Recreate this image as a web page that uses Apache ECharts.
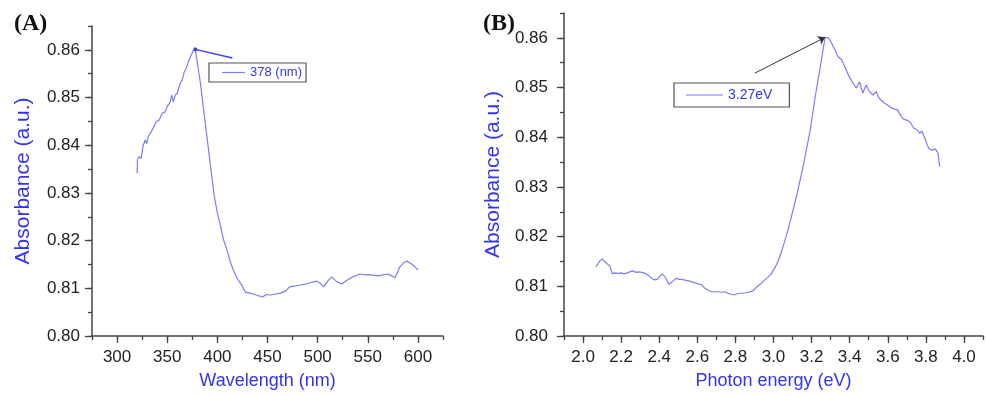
<!DOCTYPE html>
<html>
<head>
<meta charset="utf-8">
<script src="https://cdn.jsdelivr.net/npm/echarts@6.0.0/dist/echarts.min.js"></script>
<style>
  html, body { margin: 0; padding: 0; background: #fff; }
  #chart { width: 986px; height: 396px; }
</style>
</head>
<body>
<div id="chart"></div>
<script>
// (A) absorbance vs wavelength
const wavelength = [320, 320.3, 322, 324, 326, 328, 329.5, 331, 334, 337, 339, 342, 345, 348, 350, 353, 354.5, 356, 358, 360,
  363, 365, 367, 369, 371, 374, 376, 378, 379, 383, 386, 390, 394, 397, 400, 403, 406, 410, 413, 416, 420, 423, 428,
  432, 436, 440, 445, 449, 453, 458, 463, 468, 472, 478, 483, 490, 495, 499, 503, 506, 510, 514, 519, 524, 530, 535,
  542, 548, 552, 557, 562, 566, 570, 574, 577, 580, 582, 586, 589, 592, 595, 598, 600];
const absorbanceA = [0.8341, 0.8370, 0.8376, 0.8372, 0.8399, 0.8411, 0.8403, 0.8418, 0.8428, 0.8440, 0.8449, 0.8453,
  0.8467, 0.8470, 0.8481, 0.8491, 0.8505, 0.8491, 0.8505, 0.8509, 0.8530, 0.8537, 0.8554, 0.8561, 0.8575, 0.8589,
  0.8598, 0.8601, 0.8600, 0.8532, 0.8480, 0.8411, 0.8342, 0.8292, 0.8258, 0.8232, 0.8203, 0.8178, 0.8155, 0.8138,
  0.8120, 0.8111, 0.8092, 0.8090, 0.8088, 0.8085, 0.8082, 0.8087, 0.8086, 0.8088, 0.8090, 0.8094, 0.8103, 0.8105,
  0.8107, 0.8110, 0.8113, 0.8115, 0.8110, 0.8103, 0.8115, 0.8124, 0.8114, 0.8109, 0.8118, 0.8124, 0.8130, 0.8128,
  0.8128, 0.8127, 0.8126, 0.8129, 0.8130, 0.8126, 0.8122, 0.8135, 0.8145, 0.8154, 0.8157, 0.8153, 0.8149, 0.8143, 0.8138];

// (B) absorbance vs photon energy
const energy = [2.067, 2.075, 2.090, 2.102, 2.113, 2.123, 2.140, 2.154, 2.165, 2.175, 2.188, 2.200, 2.213, 2.226, 2.245,
  2.261, 2.278, 2.295, 2.321, 2.335, 2.347, 2.360, 2.373, 2.390, 2.405, 2.416, 2.425, 2.433, 2.442, 2.451, 2.468, 2.488,
  2.505, 2.520, 2.540, 2.554, 2.572, 2.589, 2.605, 2.623, 2.640, 2.658, 2.675, 2.692, 2.710, 2.727, 2.744, 2.760, 2.770,
  2.785, 2.796, 2.810, 2.822, 2.840, 2.856, 2.875, 2.890, 2.899, 2.910, 2.930, 2.951, 2.970, 2.986, 3.005, 3.021, 3.038,
  3.055, 3.072, 3.090, 3.107, 3.124, 3.142, 3.159, 3.176, 3.193, 3.206, 3.219, 3.228, 3.237, 3.246, 3.254, 3.260, 3.266,
  3.271, 3.280, 3.288, 3.297, 3.306, 3.314, 3.323, 3.331, 3.340, 3.349, 3.358, 3.366, 3.375, 3.384, 3.392, 3.405, 3.418,
  3.426, 3.435, 3.444, 3.453, 3.461, 3.470, 3.478, 3.487, 3.495, 3.504, 3.513, 3.522, 3.530, 3.539, 3.548, 3.556, 3.565,
  3.573, 3.586, 3.599, 3.612, 3.625, 3.638, 3.651, 3.660, 3.668, 3.677, 3.685, 3.694, 3.703, 3.711, 3.720, 3.729, 3.737,
  3.746, 3.754, 3.767, 3.780, 3.789, 3.798, 3.806, 3.815, 3.824, 3.832, 3.841, 3.850, 3.857, 3.864, 3.870, 3.874];
const absorbanceB = [0.8139, 0.8140, 0.8152, 0.8155, 0.8150, 0.8152, 0.8141, 0.8125, 0.8127, 0.8129, 0.8126, 0.8127,
  0.8125, 0.8126, 0.8129, 0.8131, 0.8128, 0.8129, 0.8127, 0.8124, 0.8121, 0.8116, 0.8113, 0.8114, 0.8121, 0.8125,
  0.8122, 0.8118, 0.8110, 0.8104, 0.8109, 0.8116, 0.8114, 0.8114, 0.8112, 0.8111, 0.8109, 0.8107, 0.8105, 0.8103,
  0.8096, 0.8092, 0.8089, 0.8089, 0.8089, 0.8088, 0.8089, 0.8086, 0.8085, 0.8083, 0.8083, 0.8085, 0.8086, 0.8086,
  0.8087, 0.8089, 0.8090, 0.8093, 0.8098, 0.8104, 0.8112, 0.8118, 0.8124, 0.8136, 0.8148, 0.8165, 0.8186, 0.8208,
  0.8234, 0.8260, 0.8287, 0.8317, 0.8348, 0.8381, 0.8415, 0.8448, 0.8482, 0.8502, 0.8522, 0.8542, 0.8562, 0.8576,
  0.8589, 0.8601, 0.8602, 0.8600, 0.8595, 0.8589, 0.8582, 0.8576, 0.8568, 0.8562, 0.8559, 0.8556, 0.8549, 0.8542,
  0.8534, 0.8526, 0.8517, 0.8509, 0.8504, 0.8499, 0.8506, 0.8511, 0.8498, 0.8489, 0.8498, 0.8505, 0.8498, 0.8492,
  0.8488, 0.8485, 0.8489, 0.8492, 0.8484, 0.8478, 0.8475, 0.8472, 0.8468, 0.8465, 0.8461, 0.8458, 0.8456, 0.8455,
  0.8449, 0.8443, 0.8439, 0.8436, 0.8435, 0.8434, 0.8431, 0.8429, 0.8423, 0.8418, 0.8416, 0.8415, 0.8408, 0.8412,
  0.8403, 0.8395, 0.8386, 0.8378, 0.8376, 0.8374, 0.8375, 0.8376, 0.8372, 0.8368, 0.8348, 0.8341];

// tick labels
const wavelengthTicks = [300, 350, 400, 450, 500, 550, 600];
const energyTicks = [2.0, 2.2, 2.4, 2.6, 2.8, 3.0, 3.2, 3.4, 3.6, 3.8, 4.0];
const absorbanceTicks = [0.80, 0.81, 0.82, 0.83, 0.84, 0.85, 0.86];

// annotations (data coords)
const peakA = [378, 0.8601];
const pointerA = [415, 0.8583];
const peakB = [3.271, 0.8601];
const pointerB = [2.902, 0.8529];
const legendA = '378 (nm)';
const legendB = '3.27eV';

const FONT = '"Liberation Sans", Arial, sans-serif';
const LINE = '#7b7bf8';
const BLUE = '#3434f0';
const AXIS = '#444';

const chart = echarts.init(document.getElementById('chart'), null, { renderer: 'canvas' });

function mainX(grid, min, max, interval, fmt, name) {
  return {
    gridIndex: grid, type: 'value', position: 'bottom', min: min, max: max, interval: interval,
    axisLine: { show: true, onZero: false, lineStyle: { color: AXIS, width: 1.5 } },
    axisTick: { show: true, length: 4, lineStyle: { color: AXIS, width: 1.3 } },
    axisLabel: { margin: 13, fontSize: 17, color: '#222', fontFamily: FONT, formatter: fmt },
    splitLine: { show: false },
    name: name, nameLocation: 'middle', nameGap: 36,
    nameTextStyle: { color: BLUE, fontSize: 18, fontFamily: FONT }
  };
}
function majorX(grid, min, max, ticks) {
  return {
    gridIndex: grid, type: 'value', position: 'bottom', min: min, max: max,
    axisLine: { show: false },
    axisTick: { show: true, length: 7, customValues: ticks, lineStyle: { color: AXIS, width: 1.3 } },
    axisLabel: { show: false },
    splitLine: { show: false }
  };
}
function mainY(grid, margin, gap) {
  return {
    gridIndex: grid, type: 'value', position: 'left', min: 0.80, max: 0.865, interval: 0.005,
    axisLine: { show: true, onZero: false, lineStyle: { color: AXIS, width: 1.5 } },
    axisTick: { show: true, length: 4, lineStyle: { color: AXIS, width: 1.3 } },
    axisLabel: {
      margin: margin, fontSize: 17, color: '#222', fontFamily: FONT,
      formatter: v => (Math.round(v * 1000) % 10 === 0 ? v.toFixed(2) : '')
    },
    splitLine: { show: false },
    name: 'Absorbance (a.u.)', nameLocation: 'middle', nameGap: gap,
    nameTextStyle: { color: BLUE, fontSize: 21, fontFamily: FONT }
  };
}
function majorY(grid) {
  return {
    gridIndex: grid, type: 'value', position: 'left', min: 0.80, max: 0.865,
    axisLine: { show: false },
    axisTick: { show: true, length: 7, customValues: absorbanceTicks, lineStyle: { color: AXIS, width: 1.3 } },
    axisLabel: { show: false },
    splitLine: { show: false }
  };
}

chart.setOption({
  backgroundColor: '#fff',
  animation: false,
  grid: [
    { left: 92, top: 26, width: 351, height: 310 },
    { left: 564, top: 13, width: 425, height: 323 }
  ],
  xAxis: [
    mainX(0, 275, 625, 25, v => (v % 50 === 0 ? String(v) : ''), 'Wavelength (nm)'),
    majorX(0, 275, 625, wavelengthTicks),
    mainX(1, 1.9, 4.1, 0.1, v => (Math.round(v * 10) % 2 === 0 ? v.toFixed(1) : ''), 'Photon energy (eV)'),
    majorX(1, 1.9, 4.1, energyTicks)
  ],
  yAxis: [mainY(0, 12, 58), majorY(0), mainY(1, 16, 60), majorY(1)],
  legend: [
    {
      data: [legendA], left: 209, top: 63, icon: 'rect', itemWidth: 23, itemHeight: 1.2,
      padding: [3, 4, 3, 13], borderColor: '#555', borderWidth: 1.2, selectedMode: false,
      textStyle: { color: BLUE, fontSize: 13, fontFamily: FONT }
    },
    {
      data: [legendB], left: 674, top: 83, icon: 'rect', itemWidth: 37, itemHeight: 1.2,
      padding: [5, 17, 5, 12], borderColor: '#555', borderWidth: 1.2, selectedMode: false,
      textStyle: { color: BLUE, fontSize: 14, fontFamily: FONT }
    }
  ],
  graphic: [
    { type: 'text', left: 14, top: 12, style: { text: '(A)', font: 'bold 24px "Liberation Serif", serif', fill: '#111' } },
    { type: 'text', left: 483, top: 12, style: { text: '(B)', font: 'bold 24px "Liberation Serif", serif', fill: '#111' } }
  ],
  series: [
    {
      name: legendA, type: 'line', xAxisIndex: 0, yAxisIndex: 0,
      data: wavelength.map((w, i) => [w, absorbanceA[i]]),
      showSymbol: false, color: LINE, lineStyle: { color: LINE, width: 1.2 },
      markLine: {
        silent: true, symbol: ['circle', 'none'], symbolSize: 4, animation: false,
        label: { show: false },
        lineStyle: { color: '#3d3dff', type: 'solid', width: 1.5 },
        data: [[{ coord: peakA }, { coord: pointerA }]]
      }
    },
    {
      name: legendB, type: 'line', xAxisIndex: 2, yAxisIndex: 2,
      data: energy.map((e, i) => [e, absorbanceB[i]]),
      showSymbol: false, color: LINE, lineStyle: { color: LINE, width: 1.2 },
      markLine: {
        silent: true, symbol: ['none', 'arrow'], symbolSize: 7, animation: false,
        label: { show: false },
        lineStyle: { color: '#333', type: 'solid', width: 1 },
        data: [[{ coord: pointerB }, { coord: peakB }]]
      }
    }
  ]
});
</script>
</body>
</html>
